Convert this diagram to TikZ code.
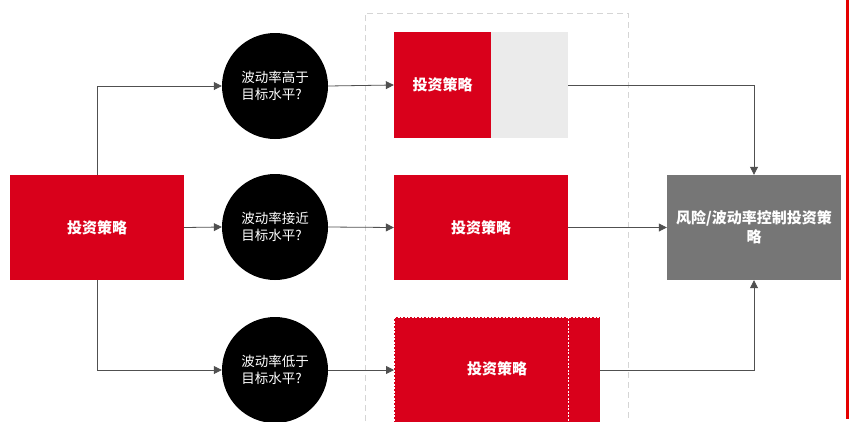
\documentclass[tikz,border=0pt]{standalone}
\usepackage{fontspec}
\setmainfont{Noto Sans CJK SC}
\usetikzlibrary{arrows.meta}
\definecolor{myred}{HTML}{D9001B}
\definecolor{lightg}{HTML}{EBEBEB}
\definecolor{darkg}{HTML}{767676}
\definecolor{lineg}{HTML}{505050}
\begin{document}
\begin{tikzpicture}[x=1pt,y=-1pt,
  redbox/.style={fill=myred,draw=none,minimum width=174pt,minimum height=105pt,text=white,font=\fontsize{15}{17}\selectfont\bfseries,inner sep=0pt},
  qcircle/.style={circle,fill=black,minimum size=106pt,inner sep=0pt,text=white,align=left,font=\fontsize{13.5}{17}\selectfont},
  conn/.style={draw=lineg,line width=0.8pt,-{Triangle[length=8pt,width=8pt]}}]
\useasboundingbox (0,0) rectangle (850,421);
\begin{scope}
\clip (0,0) rectangle (850,421);
% dashed group
\draw[lightg!80!gray,dashed,line width=1pt,dash pattern=on 6pt off 4pt] (365,421) -- (365,13) -- (628,13) -- (628,421);
% red line at right
\fill[red!90!black] (846,0) rectangle (849,419);
% left box
\node[redbox] (src) at (97,227.5) {投资策略};
% circles
\node[qcircle] (c1) at (275,86) {波动率高于\\目标水平?};
\node[qcircle] (c2) at (275,227) {波动率接近\\目标水平?};
\node[qcircle] (c3) at (275,370) {波动率低于\\目标水平?};
% top box
\fill[lightg] (491,32) rectangle (568,138);
\node[redbox,minimum width=97pt,minimum height=106pt] (b1) at (442.5,85) {投资策略};
\coordinate (b1r) at (568,85);
% middle box
\node[redbox] (b2) at (481,227.5) {投资策略};
% bottom box
\node[redbox,minimum width=206pt,minimum height=110pt,anchor=north west] (b3) at (394,317) {};
\node[text=white,font=\fontsize{15}{17}\selectfont\bfseries] (b3t) at (497,369) {投资策略};
\draw[white,dashed,line width=0.6pt,dash pattern=on 2pt off 1.5pt] (394,317) -- (600,317);
\draw[white,dashed,line width=0.6pt,dash pattern=on 2pt off 1.5pt] (394,317) -- (394,421);
\draw[white,dashed,line width=0.6pt,dash pattern=on 2pt off 1.5pt] (568,317) -- (568,421);
\coordinate (b3l) at (394,370);
\coordinate (b3r) at (600,370);
% result box
\node[fill=darkg,minimum width=174pt,minimum height=105pt,text=white,align=center,inner sep=0pt,font=\fontsize{15}{19}\selectfont\bfseries] (res) at (754,227.5) {风险/波动率控制投资策\\略};
% connectors
\draw[conn] (src.north) |- (c1.west);
\draw[conn] (src.east) -- (c2.west);
\draw[conn] (src.south) |- (c3.west);
\draw[conn] (c1.east) -- (b1.west);
\draw[conn] (c2.east) -- (b2.west);
\draw[conn] (c3.east) -- (b3l);
\draw[conn] (b1r) -| (res.north);
\draw[conn] (b2.east) -- (res.west);
\draw[conn] (b3r) -| (res.south);
\end{scope}
\end{tikzpicture}
\end{document}
